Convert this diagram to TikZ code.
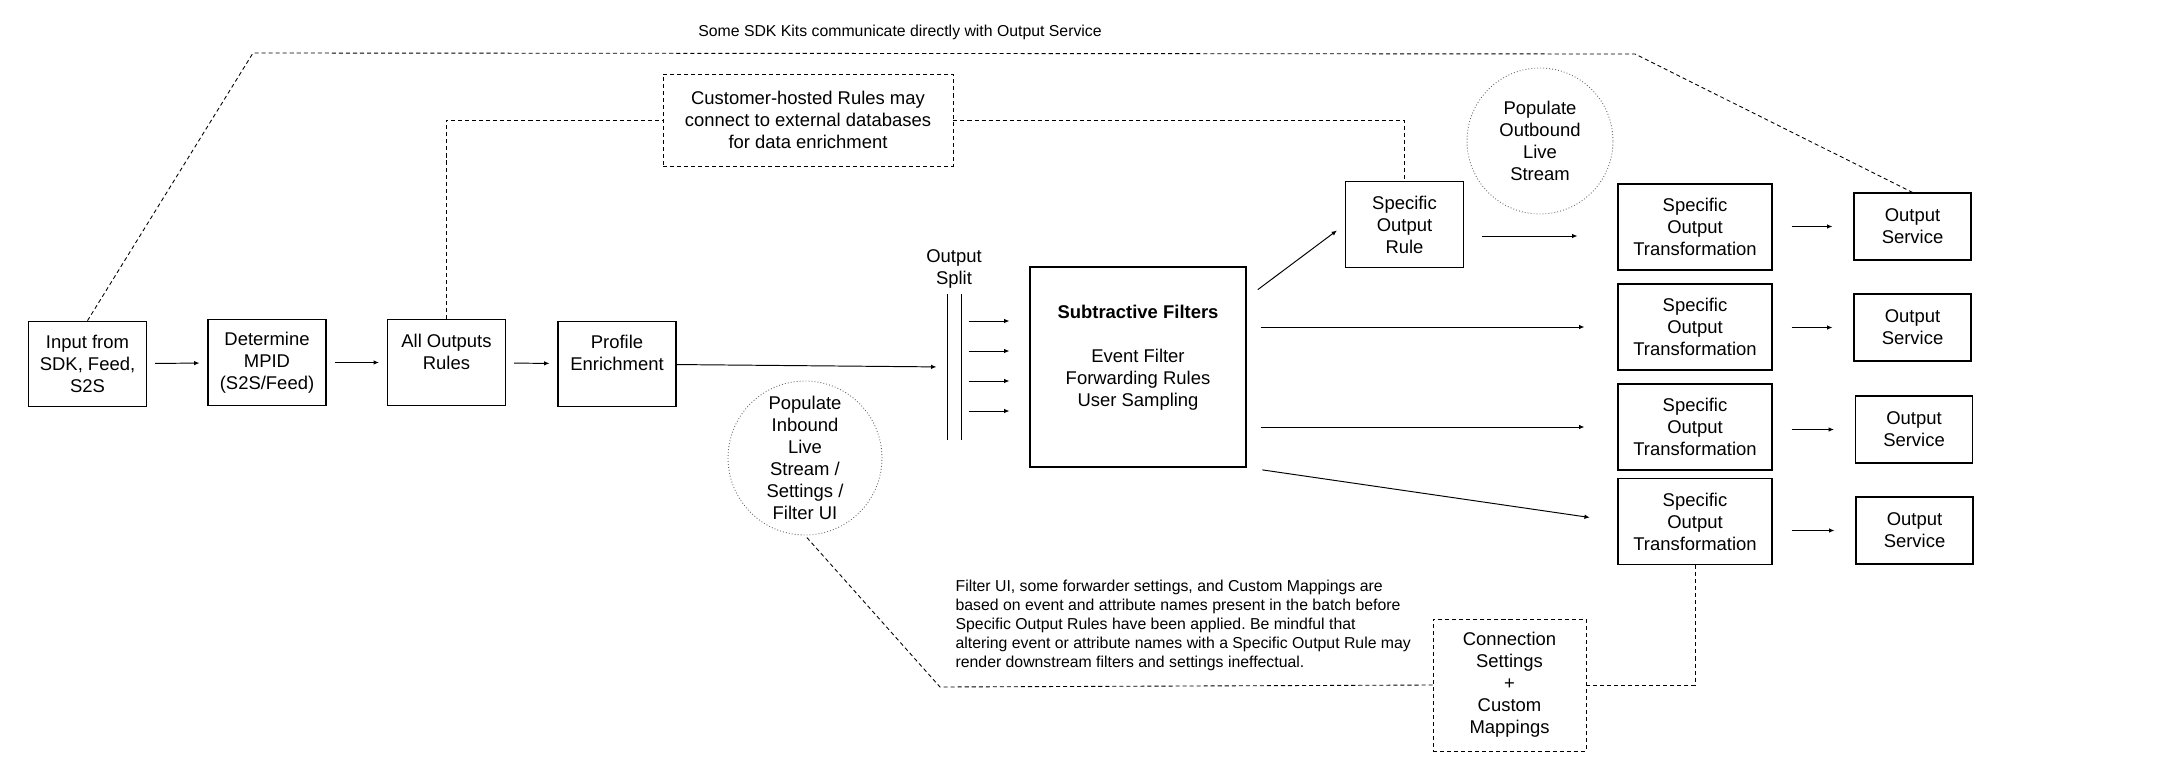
\documentclass[tikz,border=0pt]{standalone}
\usepackage{fontspec}
\setmainfont{Liberation Sans}
\usetikzlibrary{arrows.meta,positioning}
\frenchspacing

\begin{document}
\begin{tikzpicture}[
    x=0.02cm, y=-0.02cm,
    font=\fontsize{10.5}{12.5}\selectfont, line width=0.7pt,
    box/.style={draw,fill=white,align=center,inner sep=2pt,minimum width=2.36cm,minimum height=1.71cm},
    transform/.style={box,minimum width=3.08cm,minimum height=1.72cm},
    service/.style={box,minimum width=2.34cm,minimum height=1.34cm},
    dashbox/.style={box,line width=0.5pt,dash pattern=on 2.3pt off 1.7pt},
    bubble/.style={circle,draw=black!60,line width=0.5pt,dash pattern=on 0.5pt off 1.2pt,align=center,inner sep=-3pt},
    arrow/.style={-{Latex[length=3pt,width=2.6pt]},line width=0.55pt},
    gap/.style={shorten <=0.16cm,shorten >=0.16cm},
    dashline/.style={line width=0.5pt,dash pattern=on 2.3pt off 1.7pt},
    small/.style={font=\fontsize{9}{10.8}\selectfont,inner sep=0pt}
]
\path[use as bounding box,fill=white] (0,0) rectangle (2164,778);

% main chain
\node[box] (in)   at (87.5,364)  {Input from\\SDK, Feed,\\S2S};
\node[box] (mpid) at (267,362.5) {Determine\\MPID\\(S2S/Feed)};
\node[box] (aor)  at (446.5,362.5) {All Outputs\\Rules\\\mbox{}};
\node[box] (pe)   at (617,364)   {Profile\\Enrichment\\\mbox{}};
\foreach \a/\b in {in/mpid,mpid/aor,aor/pe}
    \draw[arrow,gap] (\a) -- (\b);

% output split
\node[align=center] (splitlbl) at (954,269) {Output\\Split};
\node[minimum width=0.26cm,minimum height=2.88cm,inner sep=0pt] (split) at (954.5,367) {};
\draw (split.north west) -- (split.south west)
      (split.north east) -- (split.south east);
\draw[arrow,shorten >=0.22cm] (pe) -- (split.west);

\node[box,minimum width=4.32cm,minimum height=4cm] (filt) at (1138,367)
    {\textbf{Subtractive Filters}\\[12.5pt]Event Filter\\Forwarding Rules\\User Sampling\\\mbox{}};
\foreach \y in {321,351,381,411}
    \draw[arrow,shorten <=0.14cm,shorten >=0.4cm] (split.east |- 0,\y) -- (filt.west |- 0,\y);

% per-output branch
\node[box] (sor) at (1404.5,224.5) {Specific\\Output\\Rule};
\foreach \i/\y in {1/227,2/327,3/427,4/521.5}
    \node[transform] (sot\i) at (1695,\y) {Specific\\Output\\Transformation};
\foreach \i/\x/\y in {1/1912.5/226.5,2/1912.5/327.5,3/1914/429.5,4/1914.5/530.5}
    \node[service] (os\i) at (\x,\y) {Output\\Service};

\draw[arrow,shorten <=0.28cm,shorten >=0.2cm] (filt.east |- 0,298) -- (sor.west);
\draw[arrow,shorten <=0.28cm,shorten >=0.66cm] (filt.east |- sot2) -- (sot2);
\draw[arrow,shorten <=0.28cm,shorten >=0.66cm] (filt.east |- sot3) -- (sot3);
\draw[arrow,shorten <=0.32cm,shorten >=0.56cm] (filt.south east) -- (sot4.west);
\draw[arrow,shorten <=0.36cm,shorten >=0.8cm] (sor.east |- 0,236) -- (sot1.west |- 0,236);
\foreach \i in {1,...,4}
    \draw[arrow,shorten <=0.38cm,shorten >=0.42cm] (sot\i.east |- os\i.west) -- (os\i.west);

% notes and side channels
\node[small] (sdknote) at (900,32) {Some SDK Kits communicate directly with Output Service};
\coordinate (sdkL) at (253,53);
\coordinate (sdkR) at (1635,54);
\draw[dashline] (in.north) -- (sdkL) -- (sdkR) -- (os1.north);

\node[dashbox,minimum width=5.8cm,minimum height=1.84cm] (cust) at (808,120)
    {Customer-hosted Rules may\\connect to external databases\\for data enrichment};
\draw[dashline] (aor.north) |- (cust.west);
\draw[dashline] (cust.east) -| (sor.north);

\node[bubble,minimum size=2.92cm] (outb) at (1540,141) {Populate\\Outbound\\Live\\Stream};
\node[bubble,minimum size=3.08cm] (inb) at (805,458)
    {Populate\\Inbound\\Live\\Stream /\\Settings /\\Filter UI};

\node[small,anchor=west,align=left] (caveat) at (955,625)
    {Filter UI, some forwarder settings, and Custom Mappings are\\
     based on event and attribute names present in the batch before\\
     Specific Output Rules have been applied. Be mindful that\\
     altering event or attribute names with a Specific Output Rule may\\
     render downstream filters and settings ineffectual.};

\node[dashbox,minimum width=3.06cm,minimum height=2.64cm] (conn) at (1509.5,685)
    {Connection\\Settings\\+\\Custom\\Mappings};
\draw[dashline] (sot4.south) |- (conn.east);
\coordinate (notecorner) at (940,687);
\draw[dashline] (conn.west) -- (notecorner) -- (inb.south);
\end{tikzpicture}
\end{document}
